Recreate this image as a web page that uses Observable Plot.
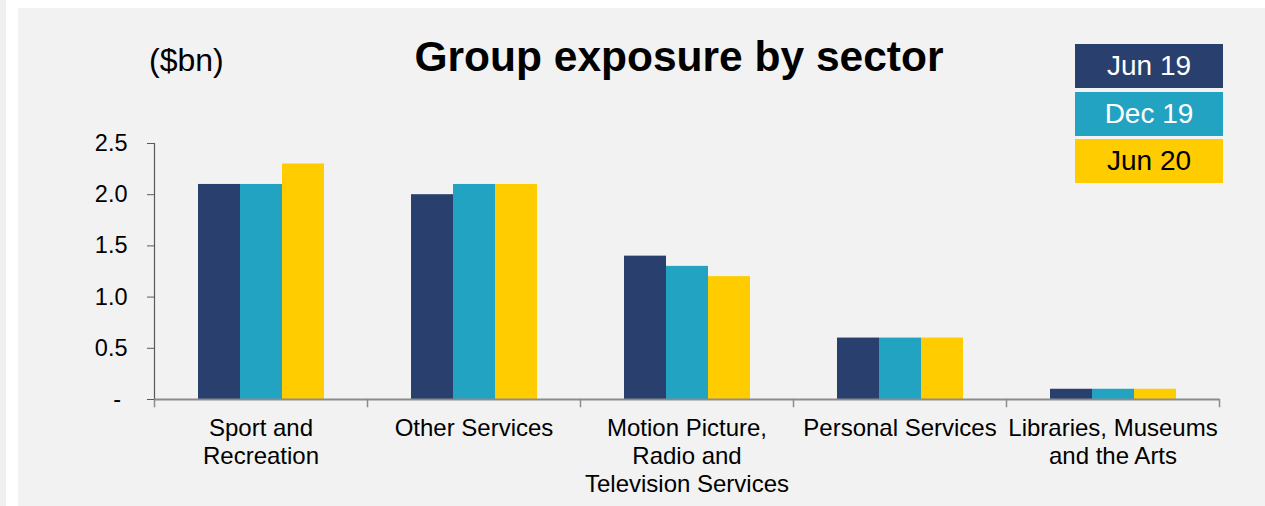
<!DOCTYPE html>
<html>
<head>
<meta charset="utf-8">
<script src="https://cdn.jsdelivr.net/npm/d3@7"></script>
<script src="https://cdn.jsdelivr.net/npm/@observablehq/plot@0.6"></script>
<style>
  html, body { margin: 0; padding: 0; background: #ffffff; }
  body { width: 1265px; height: 506px; position: relative; overflow: hidden; font-family: "Liberation Sans", Arial, sans-serif; }
  #strip { position: absolute; left: 0; top: 0; width: 6px; height: 506px; background: #f0f0f0; }
  #panel { position: absolute; left: 18px; top: 8px; right: 0; bottom: 0; background: #f2f2f2; }
  #chart { position: absolute; left: 0; top: 0; }
  #title { position: absolute; left: 379px; width: 600px; top: 36px; text-align: center; font-size: 42.5px; line-height: 42px; font-weight: bold; color: #000; white-space: nowrap; }
  #unit { position: absolute; left: 149px; top: 44px; font-size: 32px; line-height: 32px; color: #000; }
  #legend { position: absolute; left: 1075px; top: 44px; }
  .lg { width: 148px; height: 44px; line-height: 44px; text-align: center; font-size: 28px; margin-bottom: 3.5px; }
</style>
</head>
<body>
<div id="strip"></div>
<div id="panel"></div>
<div id="chart"></div>
<div id="title"></div>
<div id="unit"></div>
<div id="legend"></div>
<script>
const titleText = "Group exposure by sector";
const unitText = "($bn)";
const sectors = ["Sport and Recreation", "Other Services", "Motion Picture, Radio and Television Services", "Personal Services", "Libraries, Museums and the Arts"];
const sectorLabels = ["Sport and\nRecreation", "Other Services", "Motion Picture,\nRadio and\nTelevision Services", "Personal Services", "Libraries, Museums\nand the Arts"];
const periods = ["Jun 19", "Dec 19", "Jun 20"];
const jun19 = [2.1, 2.0, 1.4, 0.6, 0.1];
const dec19 = [2.1, 2.1, 1.3, 0.6, 0.1];
const jun20 = [2.3, 2.1, 1.2, 0.6, 0.1];
const yTicks = [0, 0.5, 1.0, 1.5, 2.0, 2.5];
const colors = ["#293f6e", "#23a3c2", "#ffcc00"];
const legendText = ["#ffffff", "#ffffff", "#000000"];

const seriesValues = [jun19, dec19, jun20];
const data = sectors.flatMap((s, i) => periods.map((p, j) => ({sector: s, period: p, value: seriesValues[j][i]})));
const labelOf = new Map(sectors.map((s, i) => [s, sectorLabels[i]]));

const W = 1265, H = 506, mT = 143, mB = 107, mL = 153, mR = 45;
const innerH = H - mT - mB;
const boundary = {stroke: "#8c8c8c", strokeWidth: 1.5, insetTop: innerH, insetBottom: -7};

const plot = Plot.plot({
  width: W, height: H,
  marginTop: mT, marginBottom: mB, marginLeft: mL, marginRight: mR,
  style: {background: "transparent", fontFamily: "'Liberation Sans', Arial, sans-serif", fontSize: "23px", color: "#000"},
  fx: {domain: sectors, padding: 0, label: null},
  x: {domain: periods, paddingInner: 0, paddingOuter: 1, axis: null},
  y: {domain: [0, 2.5], label: null},
  color: {domain: periods, range: colors},
  marks: [
    Plot.barY(data, {fx: "sector", x: "period", y: "value", fill: "period"}),
    Plot.ruleY([0], {stroke: "#8c8c8c", strokeWidth: 2}),
    Plot.frame({anchor: "left", facetAnchor: "left", stroke: "#595959", strokeWidth: 1.2}),
    Plot.frame({anchor: "left", ...boundary}),
    Plot.frame({anchor: "right", facetAnchor: "right", ...boundary}),
    Plot.axisY({ticks: yTicks, tickSize: 7, tickPadding: 20, stroke: "#595959", fontSize: 23.5, label: null,
      tickFormat: d => d === 0 ? "-\u00a0" : d.toFixed(1)}),
    Plot.axisFx({anchor: "bottom", tickSize: 0, tickPadding: 17, fontSize: 24, lineHeight: 1.16, label: null,
      tickFormat: d => labelOf.get(d)})
  ]
});
document.getElementById("chart").appendChild(plot);

document.getElementById("title").textContent = titleText;
document.getElementById("unit").textContent = unitText;
const lg = document.getElementById("legend");
periods.forEach((p, i) => {
  const d = document.createElement("div");
  d.className = "lg";
  d.style.background = colors[i];
  d.style.color = legendText[i];
  d.textContent = p;
  lg.appendChild(d);
});
</script>
</body>
</html>
